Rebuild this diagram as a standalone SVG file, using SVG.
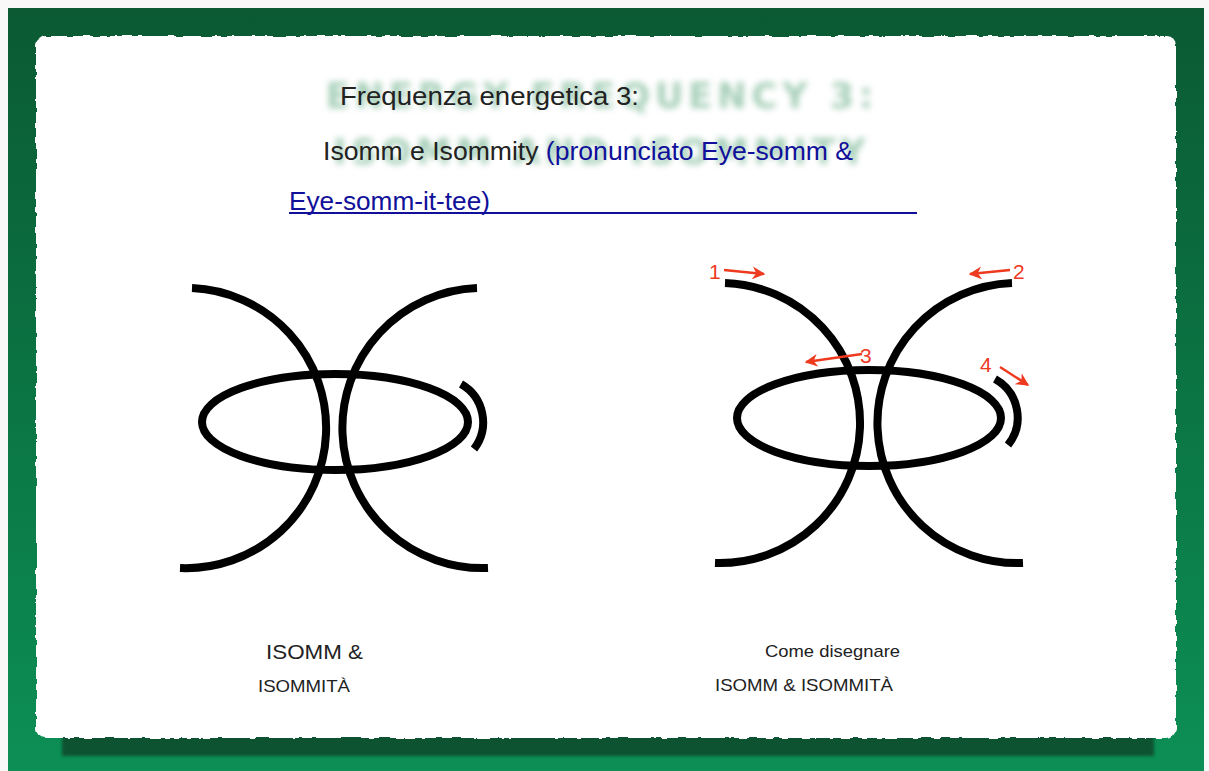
<svg xmlns="http://www.w3.org/2000/svg" width="1209" height="771" viewBox="0 0 1209 771">
<defs>
<linearGradient id="green" x1="0" y1="0" x2="0" y2="1">
<stop offset="0" stop-color="#0b5a34"/>
<stop offset="0.5" stop-color="#0b7443"/>
<stop offset="1" stop-color="#0c8f55"/>
</linearGradient>
<filter id="torn" x="-2%" y="-2%" width="104%" height="104%">
<feTurbulence type="fractalNoise" baseFrequency="0.12" numOctaves="2" seed="4" result="n"/>
<feDisplacementMap in="SourceGraphic" in2="n" scale="4" xChannelSelector="R" yChannelSelector="G"/>
</filter>
<filter id="blur" x="-5%" y="-30%" width="110%" height="160%">
<feGaussianBlur stdDeviation="3"/>
</filter>
<filter id="shadowblur" x="-5%" y="-50%" width="110%" height="200%">
<feGaussianBlur stdDeviation="1.5"/>
</filter>
<marker id="ah" viewBox="0 0 10 10" refX="9" refY="5" markerWidth="5.4" markerHeight="5.4" orient="auto" markerUnits="strokeWidth">
<path d="M0,0 L10,5 L0,10 L3,5 Z" fill="#ee3a1f"/>
</marker>
<style>
.sym{fill:none;stroke:#000;stroke-width:8}
.arr{stroke:#ee3a1f;stroke-width:2.4;fill:none;marker-end:url(#ah)}
.num{font-family:"Liberation Sans",Arial,sans-serif;font-size:21px;fill:#ee3a1f}
.t{font-family:"Liberation Sans",Arial,sans-serif;fill:#222}
.blue{fill:#10109a}
.bgt{font-family:"DejaVu Sans",sans-serif;font-weight:bold;fill:#95c6ab;letter-spacing:5px}
</style>
</defs>

<g id="background">
<rect x="0" y="0" width="1209" height="771" fill="#f7f8f7"/>
<rect x="8" y="8" width="1196" height="763" fill="url(#green)"/>
<rect x="62" y="732" width="1092" height="24" fill="#0a5230" filter="url(#shadowblur)"/>
<rect x="36" y="36" width="1140" height="702" rx="9" fill="#ffffff" filter="url(#torn)"/>
</g>

<g id="bg-title" filter="url(#blur)" opacity="0.85">
<text class="bgt" x="602" y="108" font-size="35" text-anchor="middle">ENERGY FREQUENCY 3:</text>
<text class="bgt" x="602" y="164" font-size="35" text-anchor="middle">ISOMM AND ISOMMITY</text>
</g>

<g id="title">
<text class="t" x="340" y="105" font-size="26.5" textLength="299" lengthAdjust="spacingAndGlyphs">Frequenza energetica 3:</text>
<text class="t" x="323" y="160" font-size="26.5" textLength="530" lengthAdjust="spacingAndGlyphs">Isomm e Isommity <tspan class="blue">(pronunciato Eye-somm &amp;</tspan></text>
<text class="t blue" x="289" y="210" font-size="26.5" textLength="201" lengthAdjust="spacingAndGlyphs">Eye-somm-it-tee)</text>
<line x1="289" y1="213" x2="917" y2="213" stroke="#10109a" stroke-width="2"/>
</g>

<g id="symbol-left">
<path class="sym" d="M192,288 A140,140 0 0 1 180,568"/>
<path class="sym" d="M477,288 A140,140 0 0 0 488,568"/>
<ellipse class="sym" cx="335" cy="422" rx="133" ry="48"/>
<path class="sym" d="M461,384 A44,44 0 0 1 474,449"/>
</g>

<g id="symbol-right">
<path class="sym" d="M725,283 A140,140 0 0 1 715,563"/>
<path class="sym" d="M1012,283 A140,140 0 0 0 1023,563"/>
<ellipse class="sym" cx="869" cy="418" rx="132" ry="48"/>
<path class="sym" d="M995,379 A44,44 0 0 1 1008,445"/>
</g>

<g id="connectors">
<line class="arr" x1="724" y1="270" x2="764" y2="274"/>
<line class="arr" x1="1010" y1="270" x2="970" y2="274"/>
<line class="arr" x1="862" y1="354" x2="806" y2="362"/>
<line class="arr" x1="1000" y1="367" x2="1028" y2="385"/>
</g>

<g id="step-labels">
<text class="num" x="709" y="279">1</text>
<text class="num" x="1013" y="279">2</text>
<text class="num" x="860" y="363">3</text>
<text class="num" x="980" y="372">4</text>
</g>

<g id="caption-left">
<text class="t" x="266" y="659" font-size="21" textLength="97" lengthAdjust="spacingAndGlyphs">ISOMM &amp;</text>
<text class="t" x="258" y="692" font-size="17" textLength="92" lengthAdjust="spacingAndGlyphs">ISOMMITÀ</text>
</g>

<g id="caption-right">
<text class="t" x="765" y="657" font-size="17" textLength="135" lengthAdjust="spacingAndGlyphs">Come disegnare</text>
<text class="t" x="715" y="691" font-size="17" textLength="178" lengthAdjust="spacingAndGlyphs">ISOMM &amp; ISOMMITÀ</text>
</g>
</svg>
